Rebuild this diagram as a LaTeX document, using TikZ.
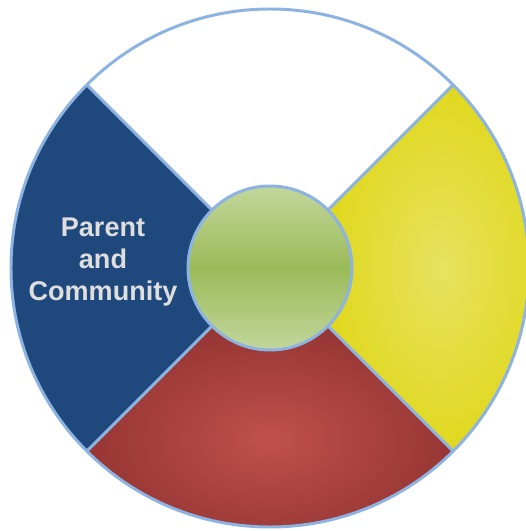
\documentclass[tikz,border=0pt]{standalone}
\usepackage{fontspec}
\setmainfont{Liberation Sans}
\usepackage{tikz}

\definecolor{ringline}{RGB}{141,179,226}
\definecolor{parentblue}{RGB}{31,73,125}
\definecolor{redin}{RGB}{192,80,77}
\definecolor{redout}{RGB}{150,54,52}
\definecolor{yellowin}{RGB}{232,226,96}
\definecolor{yellowout}{RGB}{224,216,30}
\definecolor{greenmid}{RGB}{155,187,89}
\definecolor{greenlight}{RGB}{194,214,156}
\definecolor{labelgray}{RGB}{222,222,222}

\tikzset{
	ringedge/.style={draw=ringline, line width=1.7pt},
	labeltext/.style={align=center, text=labelgray, font=\bfseries\fontsize{15.4}{18.2}\selectfont}
}

\begin{document}
\begin{tikzpicture}
					\useasboundingbox (-5.40,-5.26) rectangle (5.12,5.36);
					\clip (-5.40,-5.26) rectangle (5.12,5.36);
					
					% quarters of the ring
					\fill[white] (45:1.64) -- (45:5.18) arc[start angle=45, end angle=135, radius=5.18] -- (135:1.64) arc[start angle=135, end angle=45, radius=1.64] -- cycle;
					\fill[parentblue] (135:1.64) -- (135:5.18) arc[start angle=135, end angle=225, radius=5.18] -- (225:1.64) arc[start angle=225, end angle=135, radius=1.64] -- cycle;
					\shade[inner color=redin, outer color=redout] (225:1.64) -- (225:5.18) arc[start angle=225, end angle=315, radius=5.18] -- (315:1.64) arc[start angle=315, end angle=225, radius=1.64] -- cycle;
					\shade[inner color=yellowin, outer color=yellowout] (-45:1.64) -- (-45:5.18) arc[start angle=-45, end angle=45, radius=5.18] -- (45:1.64) arc[start angle=45, end angle=-45, radius=1.64] -- cycle;
					
					% dividers
					\coordinate (ne1) at (45:1.64);
					\coordinate (ne2) at (45:5.18);
					\coordinate (nw1) at (135:1.64);
					\coordinate (nw2) at (135:5.18);
					\coordinate (sw1) at (225:1.64);
					\coordinate (sw2) at (225:5.18);
					\coordinate (se1) at (315:1.64);
					\coordinate (se2) at (315:5.18);
					\draw[ringedge] (ne1) -- (ne2);
					\draw[ringedge] (nw1) -- (nw2);
					\draw[ringedge] (sw1) -- (sw2);
					\draw[ringedge] (se1) -- (se2);
					
					\draw[ringedge] (0,0) circle (5.18);
					\shade[top color=greenlight, bottom color=greenlight, middle color=greenmid] (0,0) circle (1.64);
					\draw[ringedge] (0,0) circle (1.64);
					
					\path (-3.34,0.12) node[labeltext] (parent) {Parent\\and\\Community};
					\end{tikzpicture}
\end{document}
